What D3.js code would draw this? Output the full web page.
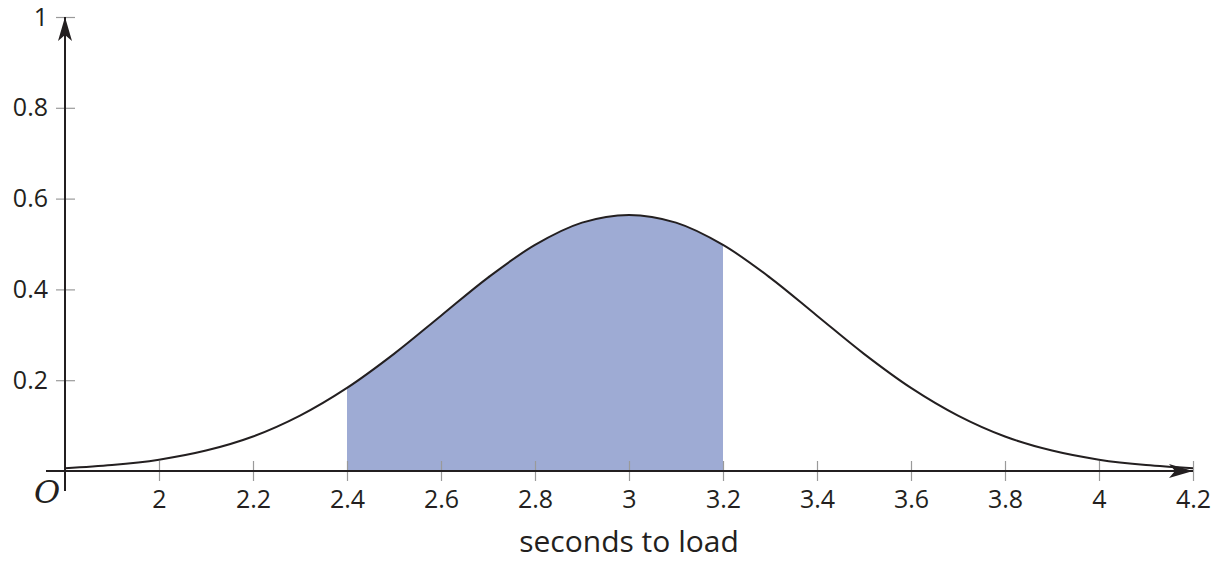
<!DOCTYPE html>
<html><head><meta charset="utf-8">
<script src="https://cdn.jsdelivr.net/npm/d3@7"></script>
<style>
body{margin:0;background:#fff;}
svg{display:block;}
text{font-family:"Open Sans",sans-serif;fill:#231f20;}
</style></head>
<body>
<svg id="c" width="1224" height="561"></svg>
<script>
const xValues = [1.8,1.9,2.0,2.1,2.2,2.3,2.4,2.5,2.6,2.7,2.8,2.9,3.0,3.1,3.2,3.3,3.4,3.5,3.6,3.7,3.8,3.9,4.0,4.1,4.2];
const yValues = [0.006,0.013,0.025,0.045,0.076,0.122,0.183,0.258,0.342,0.426,0.498,0.547,0.564,0.547,0.498,0.426,0.342,0.258,0.183,0.122,0.076,0.045,0.025,0.013,0.006];
const shadeRange = [2.4, 3.2];
const xTicks = [2,2.2,2.4,2.6,2.8,3,3.2,3.4,3.6,3.8,4,4.2];
const yTicks = [0.2,0.4,0.6,0.8,1];
const xLabel = "seconds to load";

const svg = d3.select("#c");
const x = d3.scaleLinear().domain([1.8,4.2]).range([65,1193]);
const y = d3.scaleLinear().domain([0,1]).range([471,17]);
const pts = xValues.map((v,i)=>({x:v,y:yValues[i]}));

const defs = svg.append("defs");
defs.append("marker").attr("id","arr").attr("viewBox","0 0 24 14").attr("refX",24).attr("refY",7)
  .attr("markerWidth",24).attr("markerHeight",14).attr("markerUnits","userSpaceOnUse").attr("orient","auto")
  .append("path").attr("d","M0,0 L24,7 L0,14 L6,7 Z").attr("fill","#231f20");

// shaded area
const shadePts = pts.filter(p=>p.x>=shadeRange[0]-1e-9 && p.x<=shadeRange[1]+1e-9);
svg.append("path").datum(shadePts)
  .attr("d", d3.area().x(d=>x(d.x)).y0(y(0)).y1(d=>y(d.y)).curve(d3.curveCatmullRom))
  .attr("fill","#9eabd4");

// x axis ticks
const gx = svg.append("g").attr("transform",`translate(0,${y(0)})`)
  .call(d3.axisBottom(x).tickValues(xTicks).tickSize(10).tickPadding(9).tickFormat(d3.format("")));
gx.select(".domain").remove();
gx.selectAll(".tick line").attr("y1",-10).attr("y2",10).attr("stroke","#9a9a9a").attr("stroke-width",1.2);
gx.selectAll(".tick text").style("font-size","25px").style("font-family","Open Sans").attr("fill","#231f20");

// y axis ticks
const gy = svg.append("g").attr("transform",`translate(${x(1.8)},0)`)
  .call(d3.axisLeft(y).tickValues(yTicks).tickSize(10).tickPadding(7).tickFormat(d3.format("")));
gy.select(".domain").remove();
gy.selectAll(".tick line").attr("x1",-9).attr("x2",10).attr("stroke","#9a9a9a").attr("stroke-width",1.2);
gy.selectAll(".tick text").style("font-size","25px").style("font-family","Open Sans").attr("fill","#231f20");

// axes lines
svg.append("line").attr("x1",46).attr("x2",x(4.2)).attr("y1",y(0)).attr("y2",y(0))
  .attr("stroke","#231f20").attr("stroke-width",2).attr("marker-end","url(#arr)");
svg.append("line").attr("x1",x(1.8)).attr("x2",x(1.8)).attr("y1",491).attr("y2",y(1))
  .attr("stroke","#231f20").attr("stroke-width",2).attr("marker-end","url(#arr)");

// curve
svg.append("path").datum(pts)
  .attr("d", d3.line().x(d=>x(d.x)).y(d=>y(d.y)).curve(d3.curveCatmullRom))
  .attr("fill","none").attr("stroke","#231f20").attr("stroke-width",2);

// origin label
svg.append("text").attr("x",47).attr("y",503).attr("text-anchor","middle")
  .style("font-family","DejaVu Serif").style("font-style","italic").style("font-size","32px").text("O");

// axis title
svg.append("text").attr("x",629).attr("y",552).attr("text-anchor","middle")
  .style("font-size","30px").text(xLabel);
</script>
</body></html>
